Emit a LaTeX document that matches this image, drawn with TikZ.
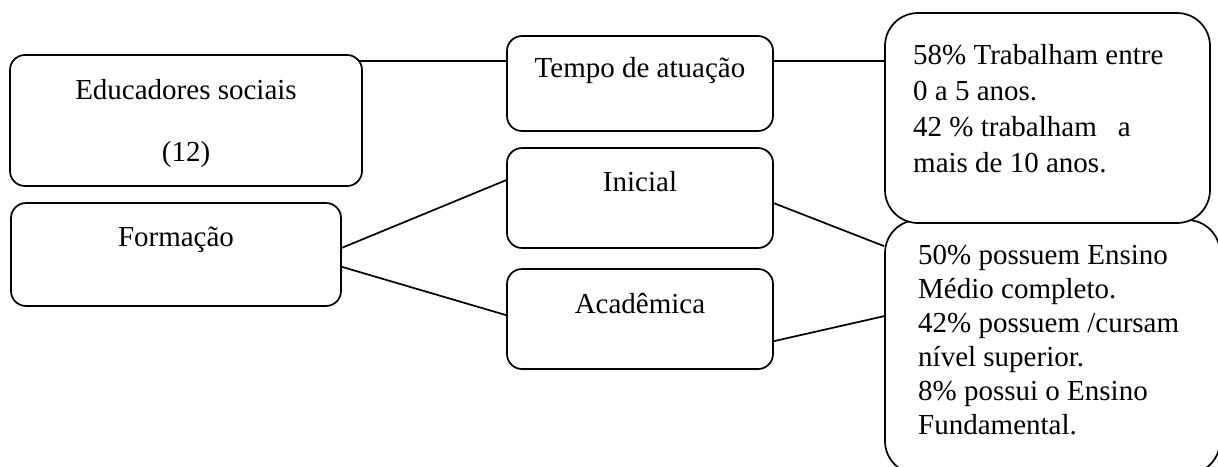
\documentclass[tikz,border=0pt]{standalone}
\usepackage{fontspec}
\setmainfont{Liberation Serif}
\begin{document}
\begin{tikzpicture}[x=1pt,y=-1pt,
  box/.style={draw,line width=1.7pt,rounded corners=15pt,fill=white,inner sep=0pt},
  bigbox/.style={draw,line width=1.7pt,rounded corners=33pt,fill=white,inner sep=0pt},
  txt/.style={font=\fontsize{29}{35}\selectfont,inner sep=0pt,anchor=base},
  ltxt/.style={inner sep=0pt,anchor=north west,align=left},
  conn/.style={line width=1.7pt}]
\useasboundingbox (0,0) rectangle (1218,466);
\clip (0,0) rectangle (1218,466);
% boxes
\node[box,minimum width=352pt,minimum height=131pt] (edu) at (186,120.5) {};
\node[box,minimum width=266pt,minimum height=95pt] (tempo) at (640,83.5) {};
\node[box,minimum width=266pt,minimum height=100pt] (ini) at (640,198) {};
\node[box,minimum width=266pt,minimum height=100pt] (acad) at (640,319) {};
\node[box,minimum width=330pt,minimum height=103pt] (form) at (176,254.5) {};
\node[bigbox,minimum width=335pt,minimum height=254pt] (forminfo) at (1052.5,347) {};
\node[bigbox,minimum width=325pt,minimum height=210pt] (tempoinfo) at (1047.5,118) {};
% texts
\node[txt] (edut1) at (186,99) {Educadores sociais};
\node[txt] (edut2) at (186,161) {(12)};
\node[txt] (tempot) at (640,77) {Tempo de atuação};
\node[txt] (init) at (640,191) {Inicial};
\node[txt] (acadt) at (640,313) {Acadêmica};
\node[txt] (formt) at (176,246) {Formação};
\node[ltxt,font=\fontsize{29}{36}\selectfont] (tempoinfot) at (913,44.5) {58\% Trabalham entre\\0 a 5 anos.\\42 \% trabalham\hspace{21pt}a\\mais de 10 anos.};
\node[ltxt,font=\fontsize{29}{34}\selectfont] (forminfot) at (918,245.5) {50\% possuem Ensino\\Médio completo.\\42\% possuem /cursam\\nível superior.\\8\% possui o Ensino\\Fundamental.};
% connectors
\draw[conn] ([shift={(-4,7)}]edu.north east) -- ([shift={(0,26)}]tempo.north west);
\draw[conn] ([shift={(0,26)}]tempo.north east) -- ([shift={(0,49)}]tempoinfo.north west);
\draw[conn] ([shift={(0,-59)}]form.south east) -- ([shift={(0,33)}]ini.north west);
\draw[conn] ([shift={(0,-40)}]form.south east) -- ([shift={(0,47)}]acad.north west);
\draw[conn] ([shift={(0,56)}]ini.north east) -- ([shift={(0,27)}]forminfo.north west);
\draw[conn] ([shift={(0,73)}]acad.north east) -- ([shift={(0,97)}]forminfo.north west);
\end{tikzpicture}
\end{document}
